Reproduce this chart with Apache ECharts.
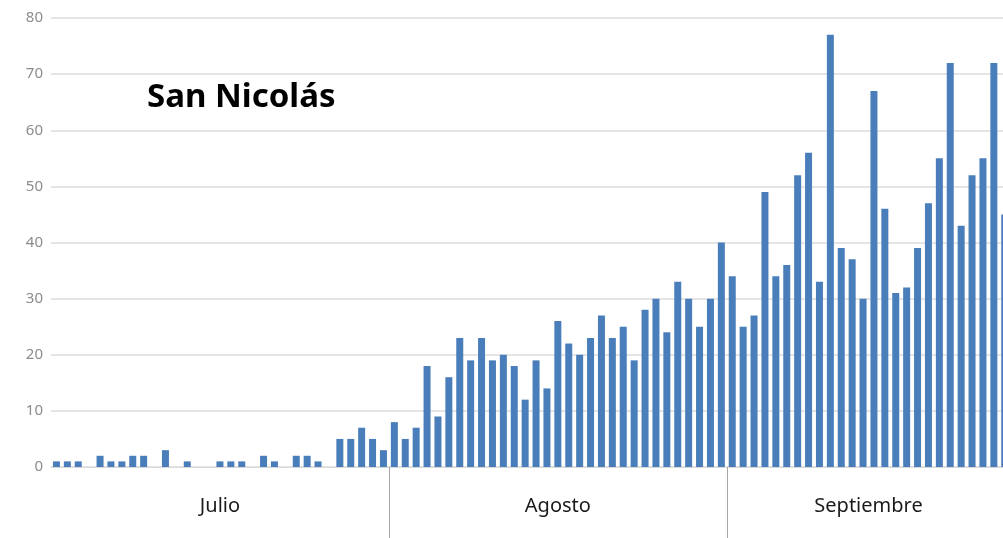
<!DOCTYPE html>
<html>
<head>
<meta charset="utf-8">
<script src="https://cdn.jsdelivr.net/npm/echarts@6/dist/echarts.min.js"></script>
<style>
  html, body { margin: 0; padding: 0; background: #fff; }
  #chart { width: 1003px; height: 538px; }
</style>
</head>
<body>
<div id="chart"></div>
<script>
// casos diarios San Nicolás, julio - septiembre
var meses = ['Julio', 'Agosto', 'Septiembre'];
var diasPorMes = [31, 31, 26];

var julio = [1, 1, 1, 0, 2, 1, 1, 2, 2, 0, 3, 0, 1, 0, 0, 1, 1, 1, 0, 2, 1, 0, 2, 2, 1, 0, 5, 5, 7, 5, 3];
var agosto = [8, 5, 7, 18, 9, 16, 23, 19, 23, 19, 20, 18, 12, 19, 14, 26, 22, 20, 23, 27, 23, 25, 19, 28, 30, 24, 33, 30, 25, 30, 40];
var septiembre = [34, 25, 27, 49, 34, 36, 52, 56, 33, 77, 39, 37, 30, 67, 46, 31, 32, 39, 47, 55, 72, 43, 52, 55, 72, 45];

var yTicks = [0, 10, 20, 30, 40, 50, 60, 70, 80];

// categorias (un dia por barra) y limites de cada mes
var dias = [];
var limites = [];
var centros = [];
var acum = 0;
for (var m = 0; m < meses.length; m++) {
    for (var d = 1; d <= diasPorMes[m]; d++) {
        dias.push(d + '/' + (m + 7));
    }
    centros.push(acum + diasPorMes[m] / 2);
    acum += diasPorMes[m];
    if (m < meses.length - 1) limites.push(acum);
}
var valores = julio.concat(agosto, septiembre);

var myChart = echarts.init(document.getElementById('chart'));
myChart.setOption({
    backgroundColor: '#ffffff',
    animation: false,
    title: {
        text: 'San Nicolás',
        left: 142,
        top: 76,
        textStyle: {
            fontFamily: 'Noto Sans',
            fontWeight: 'bold',
            fontSize: 33,
            color: '#000000'
        }
    },
    grid: {
        left: 51,
        top: 18,
        width: dias.length * 10.9,
        height: 449,
        outerBoundsMode: 'none'
    },
    xAxis: [
        {
            type: 'category',
            data: dias,
            axisLine: { lineStyle: { color: '#d9d9d9', width: 1 } },
            axisTick: { show: false },
            axisLabel: { show: false }
        },
        {
            type: 'value',
            position: 'bottom',
            min: 0,
            max: acum,
            axisLine: { show: false },
            splitLine: { show: false },
            axisTick: {
                show: true,
                customValues: limites,
                length: 72,
                lineStyle: { color: '#a6a6a6', width: 1 }
            },
            axisLabel: {
                customValues: centros,
                margin: 29,
                fontFamily: 'Noto Sans',
                fontSize: 20,
                color: '#1a1a1a',
                formatter: function (v) {
                    var i = centros.indexOf(v);
                    return i >= 0 ? meses[i] : '';
                }
            }
        }
    ],
    yAxis: {
        type: 'value',
        min: yTicks[0],
        max: yTicks[yTicks.length - 1],
        interval: yTicks[1] - yTicks[0],
        axisLine: { show: false },
        axisTick: { show: false },
        axisLabel: {
            margin: 8,
            fontFamily: 'Noto Sans',
            fontSize: 15,
            color: '#8c8c8c'
        },
        splitLine: { lineStyle: { color: '#dcdcdc', width: 1.5 } }
    },
    series: [
        {
            name: 'Casos',
            type: 'bar',
            xAxisIndex: 0,
            data: valores,
            barWidth: 7,
            itemStyle: { color: '#4a7ebb' }
        }
    ]
});
</script>
</body>
</html>
